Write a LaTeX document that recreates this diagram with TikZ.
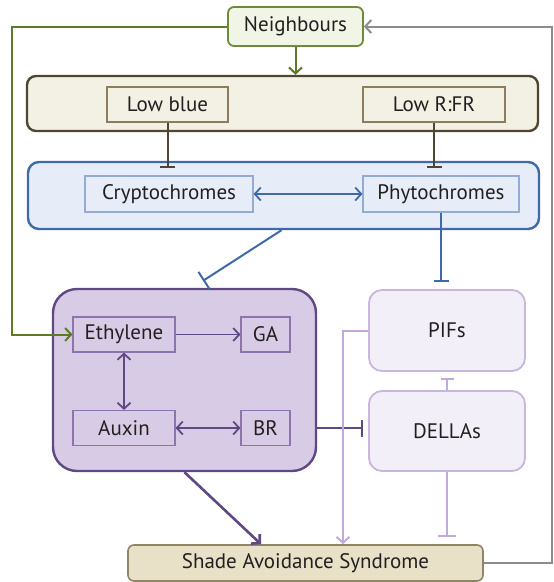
\documentclass[tikz,border=0pt]{standalone}
\usepackage{fontspec}
\setmainfont{PT Sans}
\usetikzlibrary{positioning, arrows.meta}
\definecolor{ink}{HTML}{231F20}
\definecolor{nbline}{HTML}{6E8A3A}
\definecolor{nbfill}{HTML}{F1F5E6}
\definecolor{grn}{HTML}{5D7B25}
\definecolor{brn}{HTML}{4E4630}
\definecolor{brnin}{HTML}{8C7D5E}
\definecolor{bgfill}{HTML}{F3F1E3}
\definecolor{blu}{HTML}{3F69A8}
\definecolor{bluin}{HTML}{93ACD3}
\definecolor{blufill}{HTML}{E6EDF8}
\definecolor{pur}{HTML}{5F4884}
\definecolor{purin}{HTML}{8D74AC}
\definecolor{purfill}{HTML}{D8CBE6}
\definecolor{lil}{HTML}{C8B6DE}
\definecolor{lilfill}{HTML}{F3EFF8}
\definecolor{lilline}{HTML}{C1A9DC}
\definecolor{sasline}{HTML}{8F8666}
\definecolor{sasfill}{HTML}{E8E1C8}
\definecolor{gry}{HTML}{8C8C8C}

\begin{document}
\begin{tikzpicture}[x=1pt, y=-1pt,
    every node/.style={font=\fontsize{21}{24}\selectfont, text=ink, inner sep=0pt},
    bigbox/.style={draw, line width=2.4pt},
    smallbox/.style={draw, line width=1.1pt},
    act/.style={-{Straight Barb[length=6pt, width=13pt]}, line width=2pt},
    both/.style={{Straight Barb[length=6pt, width=13pt]}-{Straight Barb[length=6pt, width=13pt]}, line width=1.8pt},
    inh/.style={-{Bar[width=15pt]}, line width=2pt}]
    \useasboundingbox (0,0) rectangle (554,582);
    % light and receptors
    \node[bigbox, draw=nbline, fill=nbfill, line width=1.8pt, rounded corners=6pt,
        minimum width=135pt, minimum height=39pt] (neighbours) at (295.5,26.5) {Neighbours};
    \node[bigbox, draw=brn, fill=bgfill, rounded corners=9pt,
        minimum width=511pt, minimum height=55pt] (lowlight) at (282.5,103.5) {};
    \node[smallbox, draw=brnin, minimum width=121pt, minimum height=35pt] (lowblue) at (167.5,104.5) {Low blue};
    \node[smallbox, draw=brnin, minimum width=142pt, minimum height=35pt] (lowrfr) at (434,104.5) {Low R:FR};
    \node[bigbox, draw=blu, fill=blufill, rounded corners=11pt,
        minimum width=511pt, minimum height=67pt] (photo) at (283.5,195.5) {};
    \node[smallbox, draw=bluin, minimum width=168pt, minimum height=36pt] (crypto) at (169,194) {Cryptochromes};
    \node[smallbox, draw=bluin, minimum width=156pt, minimum height=36pt] (phyto) at (441,194) {Phytochromes};
    % hormones
    \node[bigbox, draw=pur, fill=purfill, rounded corners=24pt,
        minimum width=263pt, minimum height=182pt] (hormones) at (184.5,380) {};
    \node[smallbox, draw=purin, minimum width=102pt, minimum height=35pt] (ethylene) at (124,334.5) {Ethylene};
    \node[smallbox, draw=purin, minimum width=49pt, minimum height=35pt] (ga) at (265.5,334.5) {GA};
    \node[smallbox, draw=purin, minimum width=102pt, minimum height=35pt] (auxin) at (124,428) {Auxin};
    \node[smallbox, draw=purin, minimum width=49pt, minimum height=35pt] (br) at (265.5,428) {BR};
    \node[bigbox, draw=lil, fill=lilfill, line width=1.8pt, rounded corners=13pt,
        minimum width=156pt, minimum height=81pt] (pifs) at (447,330.5) {PIFs};
    \node[bigbox, draw=lil, fill=lilfill, line width=1.8pt, rounded corners=13pt,
        minimum width=156pt, minimum height=80pt] (dellas) at (447,431) {DELLAs};
    \node[bigbox, draw=sasline, fill=sasfill, line width=1.6pt, rounded corners=6pt,
        minimum width=355pt, minimum height=36pt] (sas) at (305.5,563) {Shade Avoidance Syndrome};
    \coordinate (gl) at (12,26.5);
    \coordinate (gr) at (552,26.5);

    \draw[act, grn] (neighbours) -- (gl) |- (ethylene);
    \draw[act, grn] (neighbours.south) -- (neighbours.south |- lowlight.north);
    \draw[inh, brn] (lowblue.south) -- ([yshift=7pt]lowblue.south |- crypto.north);
    \draw[inh, brn] (lowrfr.south) -- ([yshift=7pt]lowrfr.south |- phyto.north);
    \draw[both, blu] (crypto) -- (phyto);
    \draw[inh, blu, -{Bar[width=20pt]}] ([xshift=-2pt]photo.south) -- ([xshift=18.5pt, yshift=7pt]hormones.north);
    \draw[inh, blu] (phyto.south) -- ([yshift=7pt]phyto.south |- pifs.north);
    \draw[act, pur, line width=1.8pt] (ethylene) -- (ga);
    \draw[both, pur] (ethylene) -- (auxin);
    \draw[both, pur] (auxin) -- (br);
    \draw[inh, pur, line width=2.4pt, -{Bar[width=17pt]}] (hormones.east |- br) -- ([xshift=-5pt]dellas.west |- br);
    \draw[act, pur, line width=2.6pt] (hormones.south) -- ([xshift=-44.5pt]sas.north);
    \draw[act, lilline] (pifs.west) -| ([xshift=37.5pt]sas.north);
    \draw[inh, lilline, -{Bar[width=13pt]}] (dellas.north) -- ([yshift=-6pt]pifs.south);
    \draw[inh, lilline, -{Bar[width=18pt]}] (dellas.south) -- ([yshift=7pt]dellas.south |- sas.north);
    \draw[act, gry] (sas.east) -| (gr) -- (neighbours.east);
\end{tikzpicture}
\end{document}
